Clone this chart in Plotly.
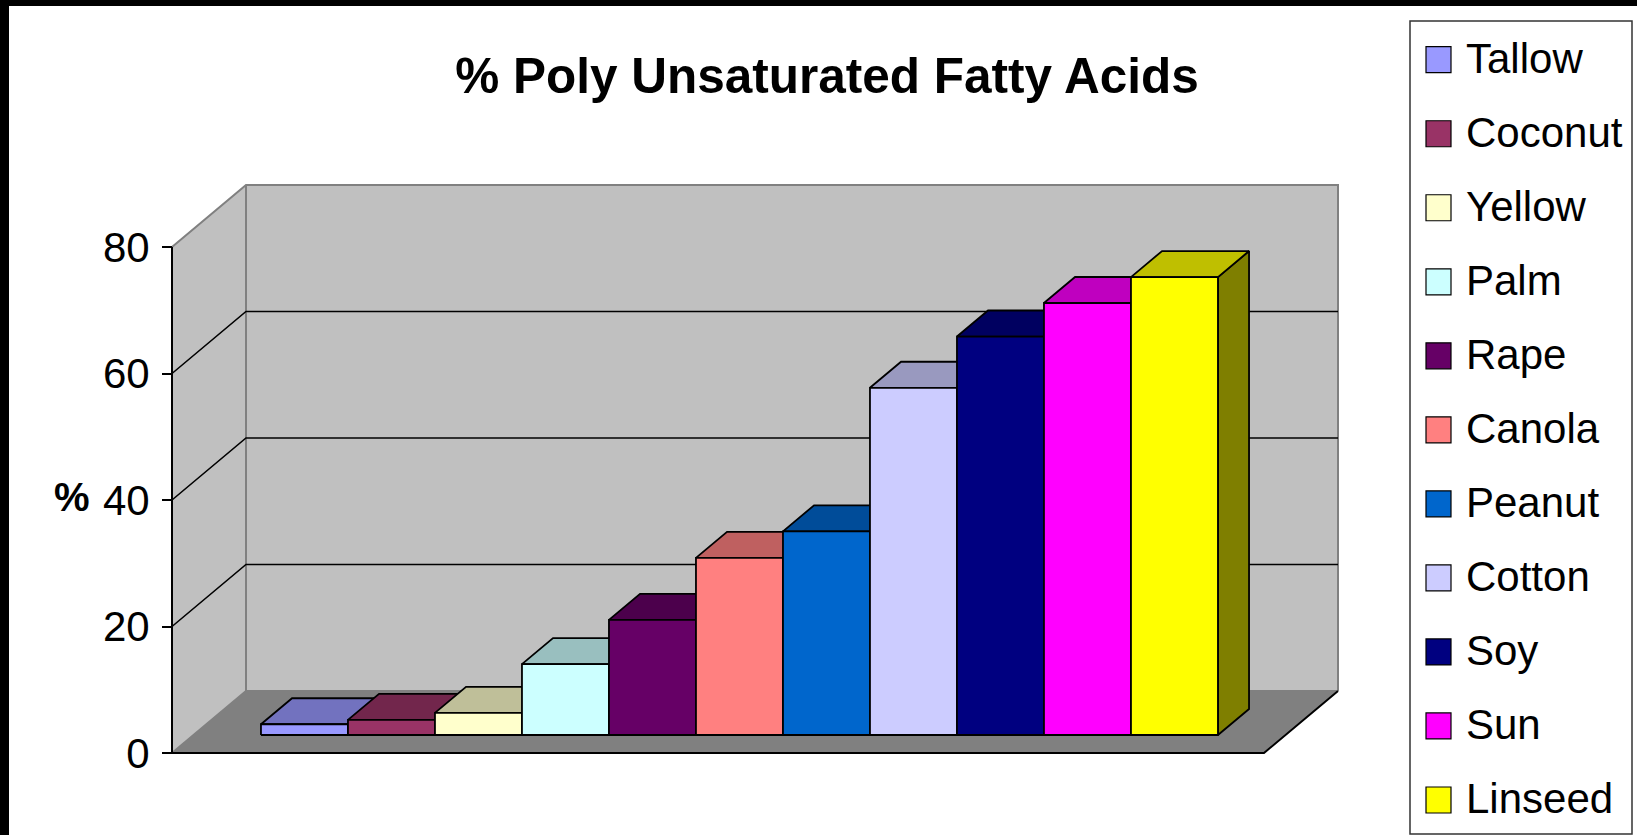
import plotly.graph_objects as go

# --- data -----------------------------------------------------------------
oils = ["Tallow", "Coconut", "Yellow", "Palm", "Rape", "Canola",
        "Peanut", "Cotton", "Soy", "Sun", "Linseed"]
pufa = [1.7, 2.4, 3.5, 11.2, 18.2, 28.0, 32.2, 54.9, 63.0, 68.3, 72.4]
colors = ["#9999FF", "#993366", "#FFFFCC", "#CCFFFF", "#660066", "#FF8080",
          "#0066CC", "#CCCCFF", "#000080", "#FF00FF", "#FFFF00"]
y_ticks = [0, 20, 40, 60, 80]
y_top = 80

# --- page / plot-area geometry (pixels) -----------------------------------
W_PX, H_PX = 1637, 835
M_L, M_R, M_T, M_B = 146, 282, 175, 70
X0_PX, Y0_PX = 172, 753          # front-left-bottom corner of the 3-D box
PX_PER_BAR = 87.0
PX_PER_PCT = 6.325

PLOT_W = W_PX - M_L - M_R
PLOT_H = H_PX - M_T - M_B

# --- 3-D box in axis units --------------------------------------------------
DEPTH_X = 74 / PX_PER_BAR        # oblique depth offset
DEPTH_Y = 62 / PX_PER_PCT
FRONT_W = 1092 / PX_PER_BAR      # width of the floor's front edge
GAP = (FRONT_W - len(oils)) / 2
Z_FRONT, Z_BACK = 0.29, 0.71     # depth span of the columns

FONT = "Liberation Sans, Arial, sans-serif"


def shade(hex_color, k):
    h = hex_color.lstrip("#")
    r, g, b = (int(h[i:i + 2], 16) for i in (0, 2, 4))
    return "#%02X%02X%02X" % (int(r * k), int(g * k), int(b * k))


def polygon(pts, fill, line_color="black", width=1.8):
    xs = [p[0] for p in pts] + [pts[0][0]]
    ys = [p[1] for p in pts] + [pts[0][1]]
    return go.Scatter(x=xs, y=ys, mode="lines", fill="toself",
                      fillcolor=fill,
                      line=dict(color=line_color, width=width),
                      hoverinfo="skip", showlegend=False)


def segment(pts, color, width):
    return go.Scatter(x=[p[0] for p in pts], y=[p[1] for p in pts],
                      mode="lines", line=dict(color=color, width=width),
                      hoverinfo="skip", showlegend=False)


fig = go.Figure()

DX, DY, W = DEPTH_X, DEPTH_Y, FRONT_W

# walls and floor
fig.add_trace(polygon([(0, 0), (DX, DY), (DX, y_top + DY), (0, y_top)],
                      "#C0C0C0", "#C0C0C0", 0.1))
fig.add_trace(polygon([(DX, DY), (W + DX, DY), (W + DX, y_top + DY),
                       (DX, y_top + DY)], "#C0C0C0", "#C0C0C0", 0.1))
fig.add_trace(polygon([(0, 0), (W, 0), (W + DX, DY), (DX, DY)],
                      "#808080", "#808080", 0.1))

# wall edges
fig.add_trace(segment([(0, y_top), (DX, y_top + DY), (W + DX, y_top + DY),
                       (W + DX, DY)], "#808080", 2))
fig.add_trace(segment([(DX, y_top + DY), (DX, DY), (W + DX, DY)], "#808080", 2))
fig.add_trace(segment([(0, 0), (DX, DY)], "#808080", 2))

# gridlines on side and back walls
for t in y_ticks[1:-1]:
    fig.add_trace(segment([(0, t), (DX, t + DY), (W + DX, t + DY)], "black", 1.6))

# front edges of the box
fig.add_trace(segment([(0, y_top), (0, 0), (W, 0), (W + DX, DY)], "black", 2))

# columns, drawn left to right so each one hides its neighbour's side face
bx0 = Z_FRONT * DX
by0 = Z_FRONT * DY
ddx = (Z_BACK - Z_FRONT) * DX
ddy = (Z_BACK - Z_FRONT) * DY
for i, (v, c) in enumerate(zip(pufa, colors)):
    xl = GAP + i + bx0
    xr = xl + 1
    yb = by0
    yt = by0 + v
    fig.add_trace(polygon([(xr, yb), (xr + ddx, yb + ddy), (xr + ddx, yt + ddy),
                           (xr, yt)], shade(c, 0.5)))
    fig.add_trace(polygon([(xl, yt), (xr, yt), (xr + ddx, yt + ddy),
                           (xl + ddx, yt + ddy)], shade(c, 0.75)))
    fig.add_trace(polygon([(xl, yb), (xr, yb), (xr, yt), (xl, yt)], c))


# --- pixel -> paper helpers for page furniture -----------------------------
def px(x):
    return (x - M_L) / PLOT_W


def py(y):
    return (H_PX - M_B - y) / PLOT_H


shapes = [
    # black frame along the top and left of the page
    dict(type="rect", xref="paper", yref="paper", x0=px(0), x1=px(9),
         y0=py(H_PX), y1=py(0), fillcolor="black", line=dict(width=0),
         layer="above"),
    dict(type="rect", xref="paper", yref="paper", x0=px(0), x1=px(W_PX),
         y0=py(6), y1=py(0), fillcolor="black", line=dict(width=0),
         layer="above"),
    # legend box
    dict(type="rect", xref="paper", yref="paper", x0=px(1410), x1=px(1632),
         y0=py(834), y1=py(21), fillcolor="white",
         line=dict(color="#333333", width=1.5), layer="above"),
]

annotations = []
LEG_Y0, LEG_STEP = 59.7, 74.03
for i, (name, c) in enumerate(zip(oils, colors)):
    cy = LEG_Y0 + i * LEG_STEP
    shapes.append(dict(type="rect", xref="paper", yref="paper",
                       x0=px(1426), x1=px(1451), y0=py(cy + 13), y1=py(cy - 13),
                       fillcolor=c, line=dict(color="black", width=1.2),
                       layer="above"))
    annotations.append(dict(text=name, xref="paper", yref="paper",
                            x=px(1464), y=py(cy - 1.5), xanchor="left",
                            yanchor="middle", showarrow=False,
                            font=dict(family=FONT, size=42, color="black")))

annotations.append(dict(text="<b>%</b>", xref="paper", yref="paper",
                        x=px(72), y=py(497), xanchor="center", yanchor="middle",
                        showarrow=False,
                        font=dict(family=FONT, size=40, color="black")))

fig.update_layout(
    width=W_PX, height=H_PX, autosize=False,
    margin=dict(l=M_L, r=M_R, t=M_T, b=M_B, pad=0),
    paper_bgcolor="white", plot_bgcolor="white",
    showlegend=False,
    title=dict(text="<b>% Poly Unsaturated Fatty Acids</b>",
               xref="container", yref="container",
               x=827 / W_PX, y=1 - 76 / H_PX,
               xanchor="center", yanchor="middle",
               font=dict(family=FONT, size=49.5, color="black")),
    xaxis=dict(visible=False,
               range=[(M_L - X0_PX) / PX_PER_BAR,
                      (W_PX - M_R - X0_PX) / PX_PER_BAR]),
    yaxis=dict(range=[(Y0_PX - (H_PX - M_B)) / PX_PER_PCT,
                      (Y0_PX - M_T) / PX_PER_PCT],
               anchor="free", position=(X0_PX - M_L) / PLOT_W, side="left",
               tickvals=y_ticks, ticks="outside", ticklen=10, tickwidth=1.5,
               tickcolor="black", ticklabelstandoff=4,
               tickfont=dict(family=FONT, size=42, color="black"),
               showgrid=False, zeroline=False, showline=False),
    shapes=shapes,
    annotations=annotations,
)

fig.write_html("out.html")
